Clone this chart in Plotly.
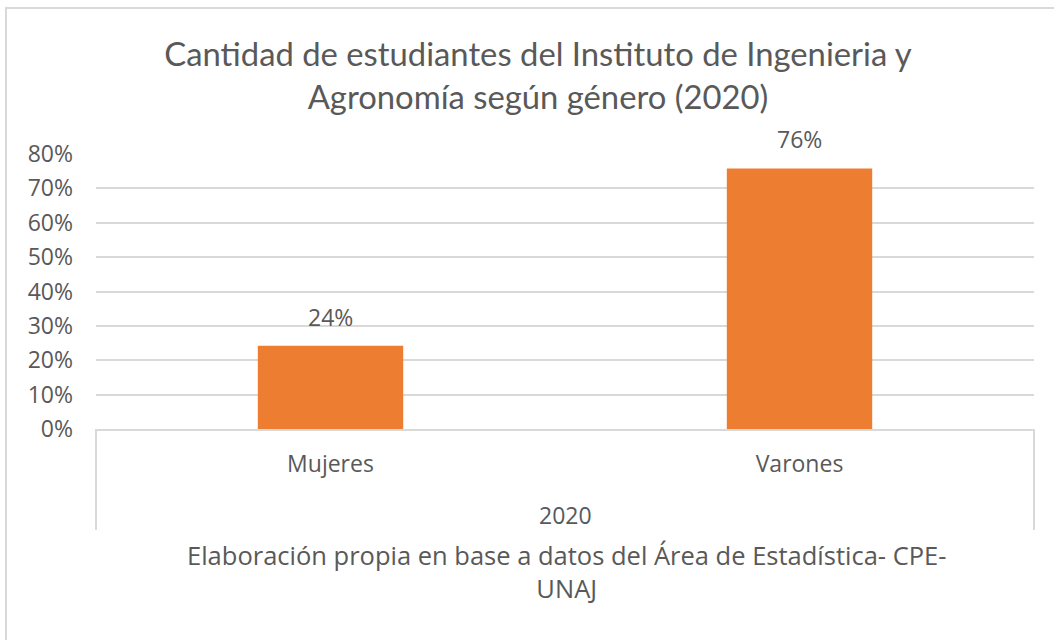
import plotly.graph_objects as go

categories = ["Mujeres", "Varones"]
values = [0.242, 0.758]
group_label = "2020"
title_text = "Cantidad de estudiantes del Instituto de Ingenieria y<br>Agronomía según género (2020)"
source_text = "Elaboración propia en base a datos del Área de Estadística- CPE-<br>UNAJ"
y_ticks = [0, 0.1, 0.2, 0.3, 0.4, 0.5, 0.6, 0.7, 0.8]

FONT = "Open Sans, Noto Sans, sans-serif"
TFONT = "Lato, Open Sans, sans-serif"
TXT = "#595959"
GRID = "#D9D9D9"

W, H = 1054, 640
L, R, T, B = 96, 20, 154, 211
pw, ph = W - L - R, H - T - B

def px_x(x):
    return (x - L) / pw

def px_y(y):
    return (H - B - y) / ph

fig = go.Figure(go.Bar(
    x=categories, y=values,
    marker=dict(color="#ED7D31", line=dict(width=0)),
    cliponaxis=False, width=0.31, hoverinfo="skip",
))

for c, v in zip(categories, values):
    fig.add_annotation(x=c, y=v, xref="x", yref="y", text=f"{v:.0%}",
                       showarrow=False, yanchor="bottom", yshift=11,
                       font=dict(family=FONT, size=23, color=TXT))

fig.update_layout(
    width=W, height=H,
    margin=dict(l=L, r=R, t=T, b=B),
    paper_bgcolor="white", plot_bgcolor="white",
    showlegend=False,
    title=dict(text=title_text, x=538 / W, xref="container", xanchor="center",
               y=(H - 66) / H, yanchor="middle",
               font=dict(family=TFONT, size=32.8, color=TXT)),
    font=dict(family=FONT, color=TXT),
    xaxis=dict(showgrid=False, showline=True, linecolor=GRID, linewidth=1.5,
               ticks="outside", ticklen=14, tickcolor="rgba(0,0,0,0)",
               tickfont=dict(family=FONT, size=23, color=TXT), fixedrange=True),
    yaxis=dict(range=[0, 0.8], tickvals=y_ticks, tickformat=".0%",
               showgrid=True, gridcolor=GRID, gridwidth=1.5, zeroline=False,
               showline=False, ticks="", ticklabelstandoff=22,
               tickfont=dict(family=FONT, size=23, color=TXT), fixedrange=True),
)

# category group dividers
for xp in (0, 1):
    fig.add_shape(type="line", xref="paper", yref="paper",
                  x0=xp, x1=xp, y0=0, y1=px_y(530),
                  line=dict(color=GRID, width=2))

# outer chart border (top and left)
fig.add_shape(type="line", xref="paper", yref="paper",
              x0=px_x(5), x1=px_x(1060), y0=px_y(8), y1=px_y(8),
              line=dict(color=GRID, width=2))
fig.add_shape(type="line", xref="paper", yref="paper",
              x0=px_x(6), x1=px_x(6), y0=px_y(8), y1=px_y(650),
              line=dict(color=GRID, width=2))

fig.add_annotation(text=group_label, xref="paper", yref="paper",
                   x=0.5, y=px_y(515), showarrow=False, yanchor="middle",
                   font=dict(family=FONT, size=23, color=TXT))
fig.add_annotation(text=source_text, xref="paper", yref="paper",
                   x=px_x(566), y=px_y(571), showarrow=False, yanchor="middle",
                   font=dict(family=FONT, size=25.5, color=TXT))

fig.write_html("out.html", config={"displayModeBar": False},
               post_script="document.body.style.margin='0';")
